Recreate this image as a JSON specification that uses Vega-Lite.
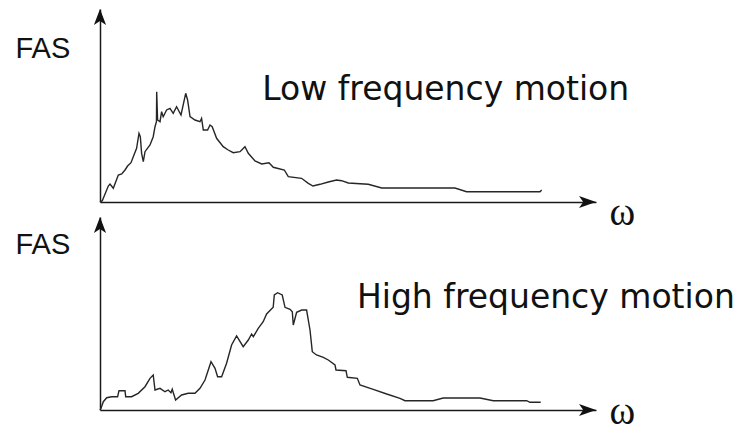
{
  "$schema": "https://vega.github.io/schema/vega-lite/v6.json",
  "background": "white",
  "padding": {"left": 15, "top": 9, "right": 0, "bottom": 20},
  "bounds": "flush",
  "spacing": 15,
  "config": {
    "view": {"stroke": null},
    "axis": {
      "domain": true,
      "domainColor": "#1a1a1a",
      "domainWidth": 1.5,
      "ticks": false,
      "labels": false,
      "grid": false,
      "titleFontWeight": "normal",
      "titleColor": "#111111",
      "titlePadding": 0
    },
    "axisX": {
      "titleFont": "Liberation Serif",
      "titleFontSize": 39,
      "titleAlign": "left",
      "titleBaseline": "middle",
      "titleX": 509
    },
    "axisY": {
      "titleFont": "Liberation Sans",
      "titleFontSize": 29,
      "titleAngle": 0,
      "titleAlign": "left",
      "titleBaseline": "middle",
      "titleX": -85
    }
  },
  "datasets": {
    "low": [
      {"omega": 0.0, "fas": 0.0},
      {"omega": 0.46, "fas": 0.67},
      {"omega": 1.67, "fas": 8.29},
      {"omega": 2.02, "fas": 9.33},
      {"omega": 2.68, "fas": 7.10},
      {"omega": 3.69, "fas": 13.99},
      {"omega": 4.38, "fas": 14.51},
      {"omega": 5.04, "fas": 16.58},
      {"omega": 5.56, "fas": 18.65},
      {"omega": 6.25, "fas": 20.36},
      {"omega": 6.71, "fas": 23.47},
      {"omega": 7.38, "fas": 27.82},
      {"omega": 7.86, "fas": 35.60},
      {"omega": 8.13, "fas": 33.83},
      {"omega": 8.39, "fas": 25.23},
      {"omega": 8.73, "fas": 20.88},
      {"omega": 9.07, "fas": 26.06},
      {"omega": 10.08, "fas": 29.53},
      {"omega": 10.73, "fas": 33.83},
      {"omega": 11.09, "fas": 39.02},
      {"omega": 11.38, "fas": 41.61},
      {"omega": 11.43, "fas": 57.15},
      {"omega": 11.61, "fas": 42.49},
      {"omega": 12.10, "fas": 41.61},
      {"omega": 12.42, "fas": 46.79},
      {"omega": 12.74, "fas": 44.20},
      {"omega": 13.43, "fas": 47.67},
      {"omega": 14.11, "fas": 48.55},
      {"omega": 14.76, "fas": 45.96},
      {"omega": 15.44, "fas": 49.38},
      {"omega": 16.33, "fas": 45.08},
      {"omega": 17.28, "fas": 56.32},
      {"omega": 17.66, "fas": 52.85},
      {"omega": 18.15, "fas": 44.20},
      {"omega": 19.15, "fas": 42.49},
      {"omega": 20.16, "fas": 41.61},
      {"omega": 20.48, "fas": 43.37},
      {"omega": 20.83, "fas": 37.31},
      {"omega": 21.69, "fas": 37.31},
      {"omega": 22.18, "fas": 39.90},
      {"omega": 22.62, "fas": 39.02},
      {"omega": 23.51, "fas": 33.01},
      {"omega": 24.84, "fas": 28.65},
      {"omega": 25.85, "fas": 26.94},
      {"omega": 26.86, "fas": 25.54},
      {"omega": 28.23, "fas": 26.06},
      {"omega": 29.23, "fas": 28.65},
      {"omega": 29.90, "fas": 25.23},
      {"omega": 31.25, "fas": 21.24},
      {"omega": 32.60, "fas": 19.69},
      {"omega": 34.07, "fas": 20.36},
      {"omega": 34.94, "fas": 17.98},
      {"omega": 37.16, "fas": 16.58},
      {"omega": 37.96, "fas": 13.11},
      {"omega": 40.64, "fas": 12.28},
      {"omega": 42.00, "fas": 9.69},
      {"omega": 42.94, "fas": 8.29},
      {"omega": 44.35, "fas": 9.17},
      {"omega": 46.03, "fas": 10.36},
      {"omega": 47.70, "fas": 11.40},
      {"omega": 48.71, "fas": 11.04},
      {"omega": 50.06, "fas": 9.84},
      {"omega": 52.42, "fas": 9.48},
      {"omega": 54.09, "fas": 9.17},
      {"omega": 56.79, "fas": 7.25},
      {"omega": 71.57, "fas": 7.25},
      {"omega": 73.91, "fas": 5.34},
      {"omega": 88.71, "fas": 5.34},
      {"omega": 89.05, "fas": 6.22}
    ],
    "high": [
      {"omega": 0.0, "fas": 0.0},
      {"omega": 0.20, "fas": 0.88},
      {"omega": 0.67, "fas": 4.30},
      {"omega": 1.35, "fas": 6.37},
      {"omega": 2.36, "fas": 6.89},
      {"omega": 3.55, "fas": 6.89},
      {"omega": 3.83, "fas": 10.00},
      {"omega": 5.04, "fas": 10.00},
      {"omega": 5.18, "fas": 6.89},
      {"omega": 6.37, "fas": 6.89},
      {"omega": 7.70, "fas": 8.65},
      {"omega": 9.07, "fas": 12.07},
      {"omega": 10.08, "fas": 16.42},
      {"omega": 10.73, "fas": 18.13},
      {"omega": 11.09, "fas": 10.36},
      {"omega": 12.10, "fas": 11.24},
      {"omega": 13.10, "fas": 9.48},
      {"omega": 13.75, "fas": 10.36},
      {"omega": 14.31, "fas": 8.96},
      {"omega": 14.56, "fas": 10.73},
      {"omega": 15.24, "fas": 5.18},
      {"omega": 16.45, "fas": 7.77},
      {"omega": 17.78, "fas": 8.65},
      {"omega": 19.15, "fas": 8.65},
      {"omega": 20.16, "fas": 11.24},
      {"omega": 21.17, "fas": 15.54},
      {"omega": 22.38, "fas": 25.03},
      {"omega": 23.19, "fas": 21.61},
      {"omega": 23.71, "fas": 17.25},
      {"omega": 24.52, "fas": 17.25},
      {"omega": 25.52, "fas": 24.20},
      {"omega": 26.53, "fas": 33.68},
      {"omega": 27.54, "fas": 38.34},
      {"omega": 28.87, "fas": 32.80},
      {"omega": 29.90, "fas": 36.27},
      {"omega": 30.56, "fas": 39.38},
      {"omega": 30.91, "fas": 37.98},
      {"omega": 31.90, "fas": 42.33},
      {"omega": 32.90, "fas": 45.75},
      {"omega": 33.59, "fas": 49.74},
      {"omega": 34.92, "fas": 53.21},
      {"omega": 35.14, "fas": 59.59},
      {"omega": 35.81, "fas": 60.78},
      {"omega": 36.74, "fas": 59.59},
      {"omega": 37.30, "fas": 53.21},
      {"omega": 38.31, "fas": 52.18},
      {"omega": 38.77, "fas": 50.93},
      {"omega": 38.97, "fas": 44.04},
      {"omega": 39.64, "fas": 50.62},
      {"omega": 40.66, "fas": 51.81},
      {"omega": 41.65, "fas": 51.81},
      {"omega": 42.34, "fas": 41.45},
      {"omega": 42.80, "fas": 30.21},
      {"omega": 43.65, "fas": 28.50},
      {"omega": 45.02, "fas": 27.31},
      {"omega": 46.03, "fas": 25.91},
      {"omega": 47.38, "fas": 23.32},
      {"omega": 47.58, "fas": 20.73},
      {"omega": 49.60, "fas": 20.36},
      {"omega": 49.86, "fas": 16.94},
      {"omega": 51.88, "fas": 16.42},
      {"omega": 52.42, "fas": 12.95},
      {"omega": 55.08, "fas": 10.73},
      {"omega": 57.80, "fas": 8.29},
      {"omega": 60.48, "fas": 6.06},
      {"omega": 61.49, "fas": 4.82},
      {"omega": 67.16, "fas": 4.82},
      {"omega": 69.19, "fas": 6.22},
      {"omega": 76.61, "fas": 6.22},
      {"omega": 79.29, "fas": 4.82},
      {"omega": 86.01, "fas": 4.82},
      {"omega": 86.69, "fas": 3.99},
      {"omega": 88.85, "fas": 3.99}
    ]
  },
  "vconcat": [
    {
      "width": 496,
      "height": 193,
      "layer": [
        {
          "data": {"name": "low"},
          "mark": {"type": "line", "color": "#262626", "strokeWidth": 1.4},
          "encoding": {
            "x": {"field": "omega", "type": "quantitative", "scale": {"domain": [0, 100]},
                  "axis": {"title": "ω", "titleY": 10}},
            "y": {"field": "fas", "type": "quantitative", "scale": {"domain": [0, 100]},
                  "axis": {"title": "FAS", "titleY": 39}}
          }
        },
        {
          "data": {"values": [{}]},
          "mark": {"type": "point", "shape": "M0,0L-0.38,1L0,0.75L0.38,1Z", "size": 1024, "filled": true, "color": "#111111", "opacity": 1, "clip": false},
          "encoding": {"x": {"datum": 0}, "y": {"datum": 100}}
        },
        {
          "data": {"values": [{}]},
          "mark": {"type": "point", "shape": "M0,0L-1,-0.36L-0.75,0L-1,0.36Z", "size": 1156, "filled": true, "color": "#111111", "opacity": 1, "clip": false},
          "encoding": {"x": {"datum": 100}, "y": {"datum": 0}}
        },
        {
          "data": {"values": [{}]},
          "mark": {"type": "text", "font": "DejaVu Sans", "fontSize": 33, "align": "left", "baseline": "middle", "color": "#111111"},
          "encoding": {"x": {"datum": 32.7}, "y": {"datum": 58}, "text": {"value": "Low frequency motion"}}
        }
      ]
    },
    {
      "width": 496,
      "height": 193,
      "layer": [
        {
          "data": {"name": "high"},
          "mark": {"type": "line", "color": "#262626", "strokeWidth": 1.4},
          "encoding": {
            "x": {"field": "omega", "type": "quantitative", "scale": {"domain": [0, 100]},
                  "axis": {"title": "ω", "titleY": 1}},
            "y": {"field": "fas", "type": "quantitative", "scale": {"domain": [0, 100]},
                  "axis": {"title": "FAS", "titleY": 27}}
          }
        },
        {
          "data": {"values": [{}]},
          "mark": {"type": "point", "shape": "M0,0L-0.38,1L0,0.75L0.38,1Z", "size": 1024, "filled": true, "color": "#111111", "opacity": 1, "clip": false},
          "encoding": {"x": {"datum": 0}, "y": {"datum": 100}}
        },
        {
          "data": {"values": [{}]},
          "mark": {"type": "point", "shape": "M0,0L-1,-0.36L-0.75,0L-1,0.36Z", "size": 1156, "filled": true, "color": "#111111", "opacity": 1, "clip": false},
          "encoding": {"x": {"datum": 100}, "y": {"datum": 0}}
        },
        {
          "data": {"values": [{}]},
          "mark": {"type": "text", "font": "DejaVu Sans", "fontSize": 33, "align": "left", "baseline": "middle", "color": "#111111"},
          "encoding": {"x": {"datum": 51.8}, "y": {"datum": 58}, "text": {"value": "High frequency motion"}}
        }
      ]
    }
  ]
}
